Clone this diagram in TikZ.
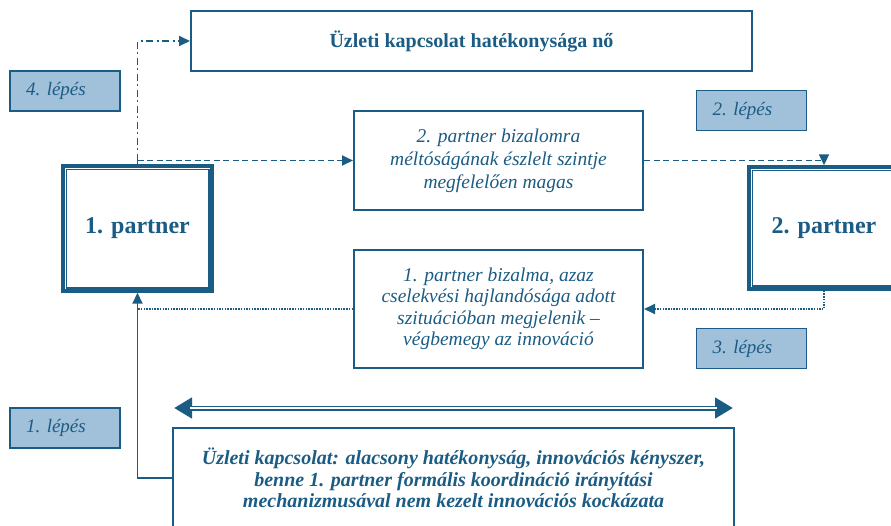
\documentclass[tikz,border=0pt]{standalone}
\usepackage{fontspec}
\setmainfont{Liberation Serif}
\usetikzlibrary{arrows.meta}
\definecolor{db}{HTML}{1B5C84}
\definecolor{stepfill}{HTML}{A1C0D9}
\begin{document}
\begin{tikzpicture}[x=1pt,y=-1pt,
  box/.style={draw=db, line width=2pt, fill=white, text=db, align=center, inner sep=0pt},
  stepbox/.style={draw=db, line width=1.8pt, fill=stepfill, text=db, minimum width=110pt, minimum height=40pt, inner sep=0pt, font=\fontsize{19}{22}\selectfont\itshape, execute at begin node=\hspace*{-18pt}},
  pbox/.style={draw=db, line width=3.4pt, fill=white, inner sep=0pt},
  ptext/.style={text=db, font=\fontsize{24}{28}\selectfont\bfseries},
  conn/.style={draw=db, line width=1.8pt},
  tip/.style={-{Triangle[length=11pt,width=10pt]}},
]
\useasboundingbox (0,0) rectangle (891,525);
\clip (0,0) rectangle (891,525);

\node[box, minimum width=561pt, minimum height=60pt, font=\fontsize{20}{24}\selectfont\bfseries] (top) at (471.5,41) {Üzleti kapcsolat hatékonysága nő};
\node[stepbox] (s4) at (65,91) {4. lépés};
\node[box, minimum width=289pt, minimum height=99pt, font=\fontsize{19.5}{23}\selectfont\itshape] (m1) at (498.5,160.5)
  {2. partner bizalomra\\méltóságának észlelt szintje\\megfelelően magas};
\node[stepbox] (s2) at (751.5,110.5) {2. lépés};

\node[pbox, minimum width=149pt, minimum height=125pt] (p1) at (137.5,228.5) {};
\draw[db, line width=1.6pt] ([xshift=5pt,yshift=-5pt]p1.north west) rectangle ([xshift=-5pt,yshift=5pt]p1.south east);
\node[ptext] (p1t) at (p1.center) {1. partner};

\node[pbox, minimum width=150pt, minimum height=122pt] (p2) at (824,228) {};
\draw[db, line width=1.6pt] ([xshift=5pt,yshift=-5pt]p2.north west) rectangle ([xshift=-5pt,yshift=5pt]p2.south east);
\node[ptext] (p2t) at (p2.center) {2. partner};

\node[box, minimum width=289pt, minimum height=118pt, font=\fontsize{19.5}{21.5}\selectfont\itshape] (m2) at (498.5,309)
  {1. partner bizalma, azaz\\cselekvési hajlandósága adott\\szituációban megjelenik –\\végbemegy az innováció};
\node[stepbox] (s3) at (751.5,348.5) {3. lépés};
\node[stepbox] (s1) at (65,428) {1. lépés};

\node[box, minimum width=561pt, minimum height=100pt, font=\fontsize{20}{21.5}\selectfont\bfseries\itshape] (bot) at (453.5,478)
  {Üzleti kapcsolat: alacsony hatékonyság, innovációs kényszer,\\benne 1. partner formális koordináció irányítási\\mechanizmusával nem kezelt innovációs kockázata};

% connectors
\coordinate (j1) at (p1.north |- m1.west);
\draw[conn] (p1.north) -- (j1);
\draw[conn, tip, dash pattern=on 7pt off 3.5pt on 2pt off 3.5pt] (j1) |- (top.west);
\draw[conn, tip, dash pattern=on 6pt off 3.5pt] (j1) -- (m1.west);
\draw[conn, tip, dash pattern=on 6pt off 3.5pt] (m1.east) -| (p2.north);
\draw[conn, tip, dash pattern=on 1.5pt off 1.2pt] (p2.south) |- (m2.east);
\coordinate (j2) at (p1.south |- m2.west);
\draw[conn, dash pattern=on 1.5pt off 1.2pt] (m2.west) -- (j2);
\draw[conn, tip] (bot.west) -| (p1.south);

% double arrow
\coordinate (da) at (174,408);
\coordinate (db2) at (733,408);
\draw[db, line width=5pt, {Triangle[length=18pt,width=20pt]}-{Triangle[length=18pt,width=20pt]}] (da) -- (db2);
\draw[white, line width=1.6pt, shorten <=16pt, shorten >=16pt] (da) -- (db2);
\end{tikzpicture}
\end{document}
